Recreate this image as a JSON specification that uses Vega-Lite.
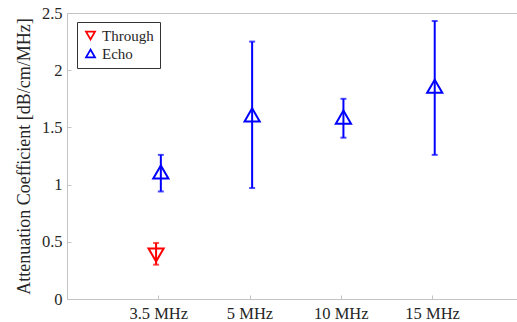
{
  "$schema": "https://vega.github.io/schema/vega-lite/v6.json",
  "width": 451,
  "height": 286,
  "autosize": {"type": "none"},
  "padding": {"left": 67, "top": 13, "right": 0, "bottom": 23},
  "background": "white",
  "config": {
    "font": "Liberation Serif",
    "view": {"stroke": "#c4c4c4", "strokeWidth": 1},
    "axis": {
      "grid": false,
      "domainColor": "#c4c4c4",
      "tickColor": "#c4c4c4",
      "labelColor": "#262626",
      "titleColor": "#262626",
      "labelFont": "Liberation Serif",
      "titleFont": "Liberation Serif",
      "labelFontSize": 16.5,
      "titleFontSize": 18,
      "titleFontWeight": "normal"
    },
    "legend": {
      "labelFont": "Liberation Serif",
      "labelFontSize": 15,
      "labelColor": "#262626"
    }
  },
  "data": {
    "values": [
      {"freq": "3.5 MHz", "series": "Through", "value": 0.385, "low": 0.30, "high": 0.49},
      {"freq": "3.5 MHz", "series": "Echo", "value": 1.11, "low": 0.94, "high": 1.26},
      {"freq": "5 MHz", "series": "Echo", "value": 1.61, "low": 0.97, "high": 2.25},
      {"freq": "10 MHz", "series": "Echo", "value": 1.59, "low": 1.41, "high": 1.75},
      {"freq": "15 MHz", "series": "Echo", "value": 1.86, "low": 1.26, "high": 2.43}
    ]
  },
  "encoding": {
    "x": {
      "field": "freq",
      "type": "ordinal",
      "sort": ["3.5 MHz", "5 MHz", "10 MHz", "15 MHz"],
      "scale": {"type": "point", "padding": 0.97, "align": 0.515},
      "axis": {"title": null, "labelAngle": 0, "tickSize": -4, "labelPadding": 10, "domain": false}
    },
    "xOffset": {
      "field": "series",
      "type": "nominal",
      "scale": {"domain": ["Through", "Echo"], "range": [-4.5, 5]}
    }
  },
  "layer": [
    {
      "mark": {"type": "rule", "strokeWidth": 2},
      "encoding": {
        "y": {
          "field": "low",
          "type": "quantitative",
          "scale": {"domain": [0, 2.5], "nice": false},
          "axis": {
            "title": "Attenuation Coefficient [dB/cm/MHz]",
            "values": [0, 0.5, 1, 1.5, 2, 2.5],
            "format": "~g",
            "tickSize": -4,
            "labelPadding": 9,
            "titlePadding": 8,
            "domain": false
          }
        },
        "y2": {"field": "high"},
        "color": {"condition": {"test": "datum.series === 'Through'", "value": "#ff0000"}, "value": "#0000ff"}
      }
    },
    {
      "mark": {"type": "tick", "size": 6, "thickness": 2},
      "encoding": {
        "y": {"field": "low", "type": "quantitative"},
        "color": {"condition": {"test": "datum.series === 'Through'", "value": "#ff0000"}, "value": "#0000ff"}
      }
    },
    {
      "mark": {"type": "tick", "size": 6, "thickness": 2},
      "encoding": {
        "y": {"field": "high", "type": "quantitative"},
        "color": {"condition": {"test": "datum.series === 'Through'", "value": "#ff0000"}, "value": "#0000ff"}
      }
    },
    {
      "mark": {"type": "point", "filled": false, "strokeWidth": 2, "size": 230, "opacity": 1},
      "encoding": {
        "y": {"field": "value", "type": "quantitative"},
        "shape": {
          "field": "series",
          "type": "nominal",
          "scale": {"domain": ["Through", "Echo"], "range": ["triangle-down", "triangle-up"]}
        },
        "color": {
          "field": "series",
          "type": "nominal",
          "scale": {"domain": ["Through", "Echo"], "range": ["#ff0000", "#0000ff"]},
          "legend": {
            "title": null,
            "orient": "none",
            "legendX": 10,
            "legendY": 9,
            "fillColor": "white",
            "strokeColor": "#333333",
            "padding": 6,
            "symbolSize": 80,
            "symbolStrokeWidth": 1.8,
            "rowPadding": 2
          }
        }
      }
    }
  ]
}
